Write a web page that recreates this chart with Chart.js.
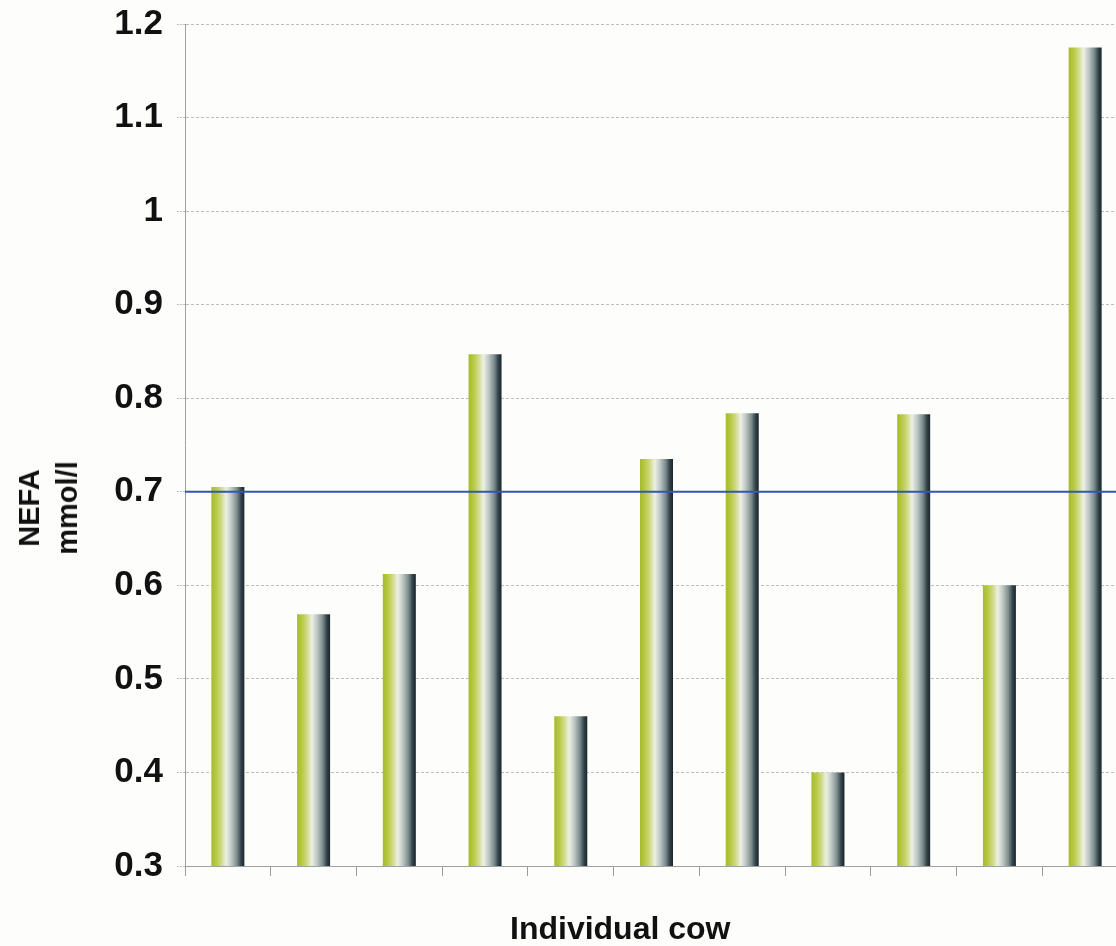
<!DOCTYPE html>
<html>
<head>
<meta charset="utf-8">
<script src="https://cdn.jsdelivr.net/npm/chart.js@4/dist/chart.umd.min.js"></script>
<style>
  html, body { margin: 0; padding: 0; background: #fdfdfb; overflow: hidden; }
  #wrap { position: relative; width: 1116px; height: 946px; overflow: hidden; }
  canvas { position: absolute; left: 0; top: 0; }
  .ytitle {
    position: absolute; left: 48px; top: 508px;
    transform: translate(-50%, -50%) rotate(-90deg);
    font: bold 29px "Liberation Sans", Arial, sans-serif;
    line-height: 38px; text-align: center; color: #111; white-space: nowrap;
  }
  .xtitle {
    position: absolute; left: 510px; top: 913px;
    font: bold 32px "Liberation Sans", Arial, sans-serif;
    line-height: 31px; color: #111; white-space: nowrap;
  }
</style>
</head>
<body>
<div id="wrap">
  <canvas id="chart" width="1130" height="946"></canvas>
  <div class="ytitle">NEFA<br>mmol/l</div>
  <div class="xtitle">Individual cow</div>
</div>
<script>
// one bar per cow, NEFA in mmol/l
const cows = ["1", "2", "3", "4", "5", "6", "7", "8", "9", "10", "11"];
const nefa = [0.705, 0.569, 0.612, 0.847, 0.46, 0.735, 0.784, 0.40, 0.783, 0.60, 1.175];
const threshold = 0.7;
const yMin = 0.3;
const yMax = 1.2;
const yStep = 0.1;

const barPct = 0.385;

// cylinder look: green on the left, white highlight, dark on the right
function barGradient(ctx) {
    const chart = ctx.chart;
    const x = chart.scales.x;
    if (!x || ctx.type !== 'data') return '#a8bc3a';
    const cx = x.getPixelForValue(ctx.dataIndex);
    const w = (x.width / cows.length) * barPct;
    if (!isFinite(cx) || !isFinite(w) || w <= 0) return '#a8bc3a';
    const g = chart.ctx.createLinearGradient(cx - w / 2, 0, cx + w / 2, 0);
    g.addColorStop(0, '#a6bb2c');
    g.addColorStop(0.15, '#b8c944');
    g.addColorStop(0.3, '#cfda86');
    g.addColorStop(0.45, '#edf0e4');
    g.addColorStop(0.6, '#c0c9c6');
    g.addColorStop(0.78, '#7a8a8a');
    g.addColorStop(0.9, '#34434a');
    g.addColorStop(1, '#18262a');
    return g;
}

// blue reference line at 0.7 across the plot
const thresholdLine = {
    id: 'thresholdLine',
    afterDatasetsDraw(chart) {
        const y = chart.scales.y.getPixelForValue(threshold);
        const area = chart.chartArea;
        const c = chart.ctx;
        c.save();
        c.strokeStyle = '#3157b0';
        c.lineWidth = 2;
        c.beginPath();
        c.moveTo(area.left, y);
        c.lineTo(area.right, y);
        c.stroke();
        c.restore();
    }
};

new Chart(document.getElementById('chart'), {
    type: 'bar',
    data: {
        labels: cows,
        datasets: [{
            data: nefa,
            backgroundColor: barGradient,
            borderWidth: 0,
            categoryPercentage: 1,
            barPercentage: barPct
        }]
    },
    options: {
        responsive: false,
        animation: false,
        layout: { padding: { top: 24, left: 85, right: 2, bottom: 70 } },
        plugins: { legend: { display: false }, tooltip: { enabled: false } },
        scales: {
            x: {
                ticks: { display: false },
                grid: {
                    offset: true,
                    drawOnChartArea: false,
                    tickLength: 10,
                    color: '#9a9a9a'
                },
                border: { color: '#a0a0a0', width: 1 }
            },
            y: {
                min: yMin,
                max: yMax,
                afterFit: (s) => {
                    s.width = 100;
                    s.paddingTop = 0;
                    s.paddingBottom = 0;
                },
                ticks: {
                    stepSize: yStep,
                    padding: 14,
                    color: '#111',
                    font: { family: '"Liberation Sans", Arial, sans-serif', size: 35, weight: 'bold' },
                    callback: (v) => String(Math.round(v * 10) / 10)
                },
                grid: {
                    color: '#bdbdbd',
                    tickLength: 8,
                    tickBorderDash: [2, 1]
                },
                border: { color: '#a0a0a0', width: 1, dash: [3, 2] }
            }
        }
    },
    plugins: [thresholdLine]
});
</script>
</body>
</html>
